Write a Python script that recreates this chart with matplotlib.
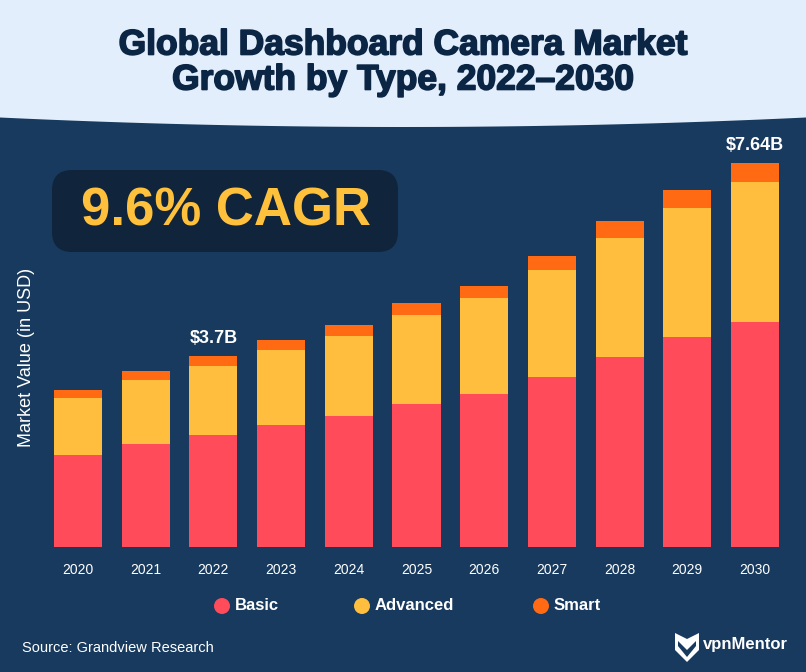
import matplotlib.pyplot as plt
import matplotlib.patheffects as pe
from matplotlib.patches import Polygon, FancyBboxPatch, Circle
import numpy as np

years = ['2020', '2021', '2022', '2023', '2024', '2025', '2026', '2027', '2028', '2029', '2030']
basic = [1.83, 2.06, 2.23, 2.42, 2.61, 2.85, 3.05, 3.38, 3.79, 4.17, 4.48]
advanced = [1.13, 1.27, 1.38, 1.49, 1.59, 1.77, 1.91, 2.13, 2.35, 2.57, 2.77]
smart = [0.16, 0.18, 0.19, 0.20, 0.22, 0.24, 0.24, 0.28, 0.34, 0.35, 0.39]
labels = {2: '$3.7B', 10: '$7.64B'}

NAVY = '#173A5E'
C_BASIC = '#FF4B5A'
C_ADV = '#FFBE3D'
C_SMART = '#FF6A13'

W, H = 806, 672
plt.rcParams['font.family'] = ['Liberation Sans', 'DejaVu Sans']

fig = plt.figure(figsize=(W / 100, H / 100), dpi=100)
fig.patch.set_facecolor(NAVY)

# light header band with curved bottom
xs = np.linspace(0, 1, 120)
edge_px = 117.5 + 9.5 * (1 - ((xs - 0.5) / 0.5) ** 2)
pts = [(0, 1)] + list(zip(xs, 1 - edge_px / H)) + [(1, 1)]
fig.add_artist(Polygon(pts, closed=True, transform=fig.transFigure,
                       facecolor='#E3EEFC', edgecolor='none', zorder=0))

heavy = [pe.withStroke(linewidth=1.2, foreground='#0B2545')]
fig.text(0.5, 1 - 45 / H, 'Global Dashboard Camera Market', ha='center', va='center',
         fontsize=25.5, fontweight='bold', color='#0B2545', path_effects=heavy)
fig.text(0.5, 1 - 80 / H, 'Growth by Type, 2022\u20132030', ha='center', va='center',
         fontsize=25.5, fontweight='bold', color='#0B2545', path_effects=heavy)

# bars
ax = fig.add_axes([44.15 / W, (H - 547.3) / H, 744.7 / W, 417.3 / H])
ax.set_facecolor('none')
x = np.arange(len(years))
bw = 0.71
ax.bar(x, basic, bw, color=C_BASIC, zorder=2)
ax.bar(x, advanced, bw, bottom=basic, color=C_ADV, zorder=2)
b2 = [b + a for b, a in zip(basic, advanced)]
ax.bar(x, smart, bw, bottom=b2, color=C_SMART, zorder=2)
tot = [b + s for b, s in zip(b2, smart)]
for i, t in labels.items():
    ax.text(x[i], tot[i] + 0.18, t, ha='center', va='bottom', color='white',
            fontsize=13, fontweight='bold')
ax.set_xlim(-0.5, len(years) - 0.5)
ax.set_ylim(0, 8.29)
ax.set_xticks(x)
ax.set_xticklabels(years, color='white', fontsize=10)
ax.tick_params(axis='x', length=0, pad=11)
ax.set_yticks([])
for s in ax.spines.values():
    s.set_visible(False)

fig.text(27 / W, 1 - 357 / H, 'Market Value (in USD)', rotation=90, ha='center', va='center',
         color='white', fontsize=13)

# CAGR box
box = FancyBboxPatch((52 / W, (H - 252) / H), 346 / W, 82 / H,
                     boxstyle='round,pad=0,rounding_size=0.025', mutation_aspect=W / H,
                     transform=fig.transFigure, facecolor='#10243B', edgecolor='none', zorder=3)
fig.add_artist(box)
fig.text(226 / W, 1 - 212 / H, '9.6% CAGR', ha='center', va='center', color='#FFC13B',
         fontsize=38, fontweight='bold', zorder=4)

# legend
for cx, col, name in [(222, C_BASIC, 'Basic'), (362, C_ADV, 'Advanced'), (541, C_SMART, 'Smart')]:
    fig.add_artist(Circle((cx, H - 606), 8, transform=None, facecolor=col, edgecolor='none'))
    fig.text((cx + 13) / W, 1 - 606 / H, name, ha='left', va='center', color='white',
             fontsize=12, fontweight='bold')

fig.text(22 / W, 1 - 648 / H, 'Source: Grandview Research', ha='left', va='center',
         color='white', fontsize=10.5)

# vpnMentor logo
sx, sy = 687, H - 647
shield = [(sx - 12, sy + 14), (sx, sy + 8), (sx + 12, sy + 14), (sx + 12, sy - 3),
          (sx, sy - 15), (sx - 12, sy - 3)]
fig.add_artist(Polygon(shield, closed=True, transform=None, facecolor='white', edgecolor='none'))
chev = [(sx - 9, sy + 6), (sx, sy - 3), (sx + 9, sy + 6), (sx + 9, sy + 1), (sx, sy - 10), (sx - 9, sy + 1)]
fig.add_artist(Polygon(chev, closed=True, transform=None, facecolor=NAVY, edgecolor='none'))
fig.text(703 / W, 1 - 645 / H, 'vpnMentor', ha='left', va='center', color='white',
         fontsize=12, fontweight='bold')

fig.savefig('out.png', dpi=100, facecolor=fig.get_facecolor())
